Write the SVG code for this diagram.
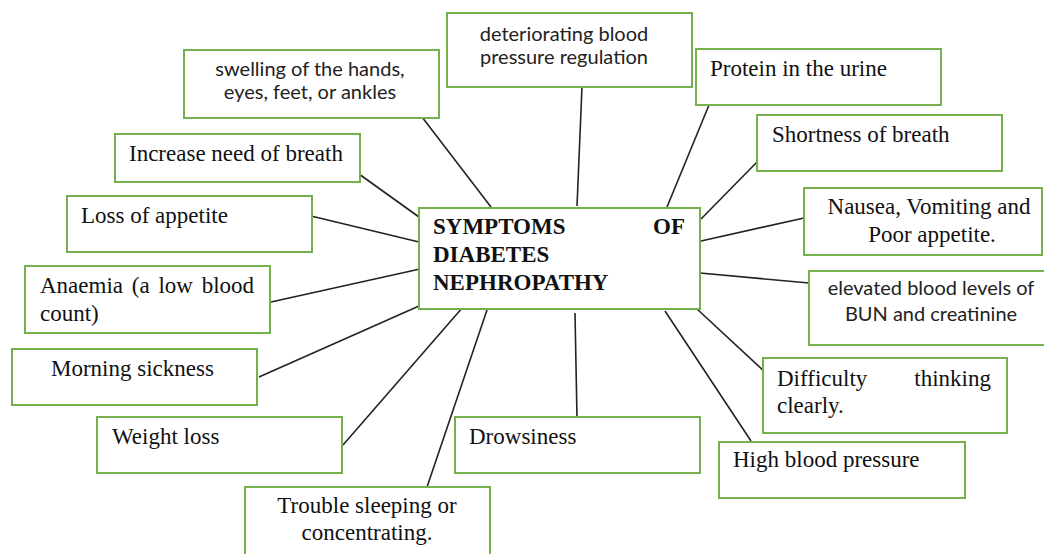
<svg xmlns="http://www.w3.org/2000/svg" width="1044" height="554" viewBox="0 0 1044 554">
<style>
.box{fill:#fff;stroke:#74b14c;stroke-width:2}
.ser{font-family:"Liberation Serif","Times New Roman",serif;font-size:23px;fill:#111}
.san{font-family:Lato,"Liberation Sans",sans-serif;font-size:20px;fill:#222}
.ttl{font-family:"Liberation Serif","Times New Roman",serif;font-size:23px;font-weight:bold;fill:#111}
.c{text-anchor:middle}
.e{text-anchor:end}
.ln{stroke:#222;stroke-width:1.6;fill:none}
</style>
<rect width="1044" height="554" fill="#fff"/>
<g id="connectors">
<line class="ln" x1="422" y1="117" x2="491" y2="207"/>
<line class="ln" x1="582" y1="87" x2="577" y2="206"/>
<line class="ln" x1="709" y1="105" x2="667" y2="207"/>
<line class="ln" x1="759" y1="160" x2="701" y2="219"/>
<line class="ln" x1="804" y1="218" x2="701" y2="241"/>
<line class="ln" x1="359" y1="174" x2="419" y2="217"/>
<line class="ln" x1="311" y1="216" x2="419" y2="242"/>
<line class="ln" x1="271" y1="302" x2="420" y2="269"/>
<line class="ln" x1="259" y1="377" x2="419" y2="306"/>
<line class="ln" x1="343" y1="445" x2="463" y2="307"/>
<line class="ln" x1="426" y1="490" x2="487" y2="310"/>
<line class="ln" x1="575" y1="313" x2="577" y2="418"/>
<line class="ln" x1="665" y1="311" x2="751" y2="441"/>
<line class="ln" x1="697" y1="309" x2="765" y2="372"/>
<line class="ln" x1="700" y1="273" x2="809" y2="283"/>
</g>
<g id="center">
<rect class="box" x="419" y="208" width="281" height="101"/>
<text class="ttl" x="433" y="234">SYMPTOMS</text>
<text class="ttl e" x="685" y="234">OF</text>
<text class="ttl" x="433" y="262">DIABETES</text>
<text class="ttl" x="433" y="290">NEPHROPATHY</text>
</g>
<g id="n-swelling">
<rect class="box" x="184" y="50" width="255" height="68"/>
<text class="san c" x="310" y="76">swelling of the hands,</text>
<text class="san c" x="310" y="99">eyes, feet, or ankles</text>
</g>
<g id="n-deteriorating">
<rect class="box" x="447" y="13" width="245" height="74"/>
<text class="san c" x="564" y="41">deteriorating blood</text>
<text class="san c" x="564" y="64">pressure regulation</text>
</g>
<g id="n-protein">
<rect class="box" x="696" y="49" width="245" height="56"/>
<text class="ser" x="710" y="76">Protein in the urine</text>
</g>
<g id="n-shortness">
<rect class="box" x="757" y="115" width="245" height="56"/>
<text class="ser" x="772" y="142">Shortness of breath</text>
</g>
<g id="n-nausea">
<rect class="box" x="804" y="188" width="238" height="67"/>
<text class="ser c" x="929" y="214">Nausea, Vomiting and</text>
<text class="ser c" x="932" y="242">Poor appetite.</text>
</g>
<g id="n-elevated">
<rect class="box" x="809" y="271" width="240" height="74"/>
<text class="san c" x="931" y="295">elevated blood levels of</text>
<text class="san c" x="931" y="321">BUN and creatinine</text>
</g>
<g id="n-difficulty">
<rect class="box" x="763" y="358" width="244" height="75"/>
<text class="ser" x="777" y="386">Difficulty</text>
<text class="ser e" x="991" y="386">thinking</text>
<text class="ser" x="777" y="413">clearly.</text>
</g>
<g id="n-highbp">
<rect class="box" x="719" y="442" width="246" height="56"/>
<text class="ser" x="733" y="467">High blood pressure</text>
</g>
<g id="n-drowsiness">
<rect class="box" x="455" y="417" width="245" height="56"/>
<text class="ser" x="469" y="444">Drowsiness</text>
</g>
<g id="n-trouble">
<rect class="box" x="245" y="487" width="245" height="80"/>
<text class="ser c" x="367" y="513">Trouble sleeping or</text>
<text class="ser c" x="367" y="540">concentrating.</text>
</g>
<g id="n-weight">
<rect class="box" x="97" y="417" width="245" height="56"/>
<text class="ser" x="112" y="444">Weight loss</text>
</g>
<g id="n-morning">
<rect class="box" x="12" y="349" width="245" height="56"/>
<text class="ser" x="51" y="376">Morning sickness</text>
</g>
<g id="n-anaemia">
<rect class="box" x="25" y="266" width="245" height="67"/>
<text class="ser" x="40" y="293" word-spacing="3">Anaemia (a low blood</text>
<text class="ser" x="40" y="321">count)</text>
</g>
<g id="n-loss">
<rect class="box" x="67" y="196" width="245" height="56"/>
<text class="ser" x="81" y="223">Loss of appetite</text>
</g>
<g id="n-increase">
<rect class="box" x="115" y="134" width="245" height="48"/>
<text class="ser" x="129" y="161">Increase need of breath</text>
</g>
</svg>
